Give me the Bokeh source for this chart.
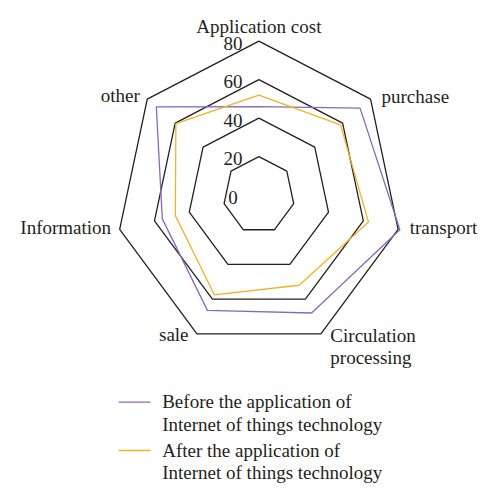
import numpy as np
from bokeh.plotting import figure
from bokeh.models import Range1d
from bokeh.core.properties import value
from bokeh.embed import file_html
from bokeh.resources import INLINE

# ---- data ----
categories = ["Application cost", "purchase", "transport", "Circulation processing",
              "sale", "Information", "other"]
before = [46, 72.5, 81, 68, 66.5, 55.5, 73.5]
after = [52, 58.5, 63, 52, 57.5, 48, 59.5]
ring_values = [20, 40, 60, 80]
tick_values = [0, 20, 40, 60, 80]
tick_labels = ["0", "20", "40", "60", "80"]
series_names = [["Before the application of", "Internet of things technology"],
                ["After the application of", "Internet of things technology"]]

# ---- styles / layout ----
W, H = 490, 492
CX, CY = 258.4, 194.6      # centre in figure pixels
SX, SY = 1.785, 1.924      # pixels per unit
PURPLE = "#8b68b6"
YELLOW = "#f0b323"
INK = "#231f20"
FONT = value("Liberation Serif")
FS = "19px"
TS = -5.5                  # baseline correction for text

p = figure(width=W, height=H, output_backend="svg", toolbar_location=None,
           x_axis_type=None, y_axis_type=None, min_border=0,
           x_range=Range1d(-CX / SX, (W - CX) / SX),
           y_range=Range1d(-(H - CY) / SY, CY / SY))
p.grid.visible = False
p.outline_line_color = None
p.background_fill_color = "white"
p.border_fill_color = "white"

n = len(categories)
theta = np.arange(n) * 2 * np.pi / n
dirx = np.sin(theta)
diry = np.cos(theta)


def closed(vals):
    v = np.asarray(vals, dtype=float)
    xs = list(v * dirx) + [v[0] * dirx[0]]
    ys = list(v * diry) + [v[0] * diry[0]]
    return xs, ys


def px(X, Y):
    """pixel position -> data coordinates"""
    return (X - CX) / SX, (CY - Y) / SY


# grid rings
gx, gy = [], []
for r in ring_values:
    xs, ys = closed([r] * n)
    gx.append(xs)
    gy.append(ys)
p.multi_line(gx, gy, line_color=INK, line_width=1.3)

# series
bx, by = closed(before)
p.line(bx, by, line_color=PURPLE, line_width=1.3)
ax, ay = closed(after)
p.line(ax, ay, line_color=YELLOW, line_width=1.3)

# tick labels
p.text(x=[0] * len(tick_values), y=tick_values, text=tick_labels,
       x_offset=-26, y_offset=7.5 + TS, text_align="center", text_baseline="alphabetic",
       text_font=FONT, text_font_size=FS, text_color=INK)

# category labels (anchored on outer ring vertex)
outer = max(ring_values)
specs = [  # index, lines, align, dx, dy(first baseline)
    (0, ["Application cost"], "center", 0, -9.2),
    (1, ["purchase"], "left", 11, 2.7),
    (2, ["transport"], "left", 11.6, 4),
    (3, ["Circulation", "processing"], "left", 9.5, 7.4),
    (4, ["sale"], "right", -8.4, 6.7),
    (5, ["Information"], "right", -8.6, 4),
    (6, ["other"], "right", -7.4, 1.5),
]
for idx, lines, align, dx, dy in specs:
    for j, t in enumerate(lines):
        p.text(x=[outer * dirx[idx]], y=[outer * diry[idx]], text=[t],
               x_offset=dx, y_offset=dy + j * 22 + TS, text_align=align,
               text_baseline="alphabetic", text_font=FONT, text_font_size=FS,
               text_color=INK)

# legend (manual)
legend_colors = [PURPLE, YELLOW]
legend_base = [406.7, 455.0]
for k, (col, lines) in enumerate(zip(legend_colors, series_names)):
    y0 = legend_base[k]
    x1, yl = px(118.3, y0 - 5)
    x2, _ = px(150, y0 - 5)
    p.line([x1, x2], [yl, yl], line_color=col, line_width=1.3)
    for j, t in enumerate(lines):
        tx, ty = px(161.7, y0 + j * 22.6)
        p.text(x=[tx], y=[ty], text=[t], text_align="left", y_offset=TS,
               text_baseline="alphabetic", text_font=FONT, text_font_size=FS,
               text_color=INK)

open("out.html", "w").write(file_html(p, INLINE))
